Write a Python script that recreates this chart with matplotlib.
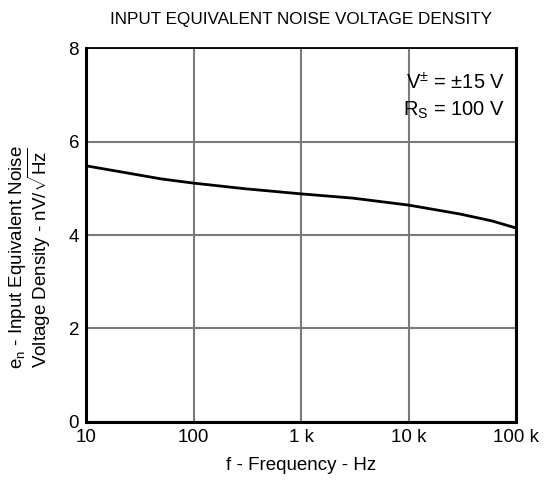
import numpy as np
import matplotlib
matplotlib.use('Agg')
import matplotlib.pyplot as plt

plt.rcParams['font.family'] = ['Liberation Sans', 'DejaVu Sans']
plt.rcParams['mathtext.fontset'] = 'custom'
plt.rcParams['mathtext.rm'] = 'Liberation Sans'
plt.rcParams['mathtext.it'] = 'Liberation Sans'

freq = [10, 20, 50, 100, 300, 1000, 3000, 10000, 30000, 60000, 100000]
noise = [5.48, 5.36, 5.20, 5.11, 4.99, 4.88, 4.79, 4.64, 4.45, 4.30, 4.15]

xticks = [10, 100, 1000, 10000, 100000]
xticklabels = ['10', '100', '1 k', '10 k', '100 k']
yticks = [0, 2, 4, 6, 8]

fig = plt.figure(figsize=(5.5, 4.86), dpi=100)
ax = fig.add_axes([0.1564, 0.1317, 0.7818, 0.7695])

ax.plot(freq, noise, color='black', lw=2)
ax.set_xscale('log')
ax.set_xlim(10, 100000)
ax.set_ylim(0, 8)
ax.set_xticks(xticks)
ax.set_xticklabels(xticklabels)
ax.minorticks_off()
ax.set_yticks(yticks)
ax.tick_params(length=0, labelsize=13.5, pad=5)
ax.grid(True, color='#7a7a7a', lw=1.5)
for s in ['left', 'bottom', 'right']:
    ax.spines[s].set_linewidth(2.2)
ax.spines['top'].set_linewidth(1.3)

ax.set_xlabel('f - Frequency - Hz', fontsize=13.5, labelpad=8)
ax.set_ylabel('$\\mathregular{e_n}$ - Input Equivalent Noise\nVoltage Density - nV/$\\sqrt{\\mathregular{Hz}}$',
              fontsize=13.5, linespacing=0.9)
ax.yaxis.set_label_coords(-0.076, 0.44)
ax.set_title('INPUT EQUIVALENT NOISE VOLTAGE DENSITY', fontsize=12.3, pad=17)

ax.text(0.975, 0.906, '$\\mathregular{V^{\\pm}}$ = \u00b115 V', transform=ax.transAxes,
        ha='right', va='center', fontsize=14.5)
ax.text(0.975, 0.834, '$\\mathregular{R_S}$ = 100 V', transform=ax.transAxes,
        ha='right', va='center', fontsize=14.5)

fig.savefig('out.png', dpi=100)
